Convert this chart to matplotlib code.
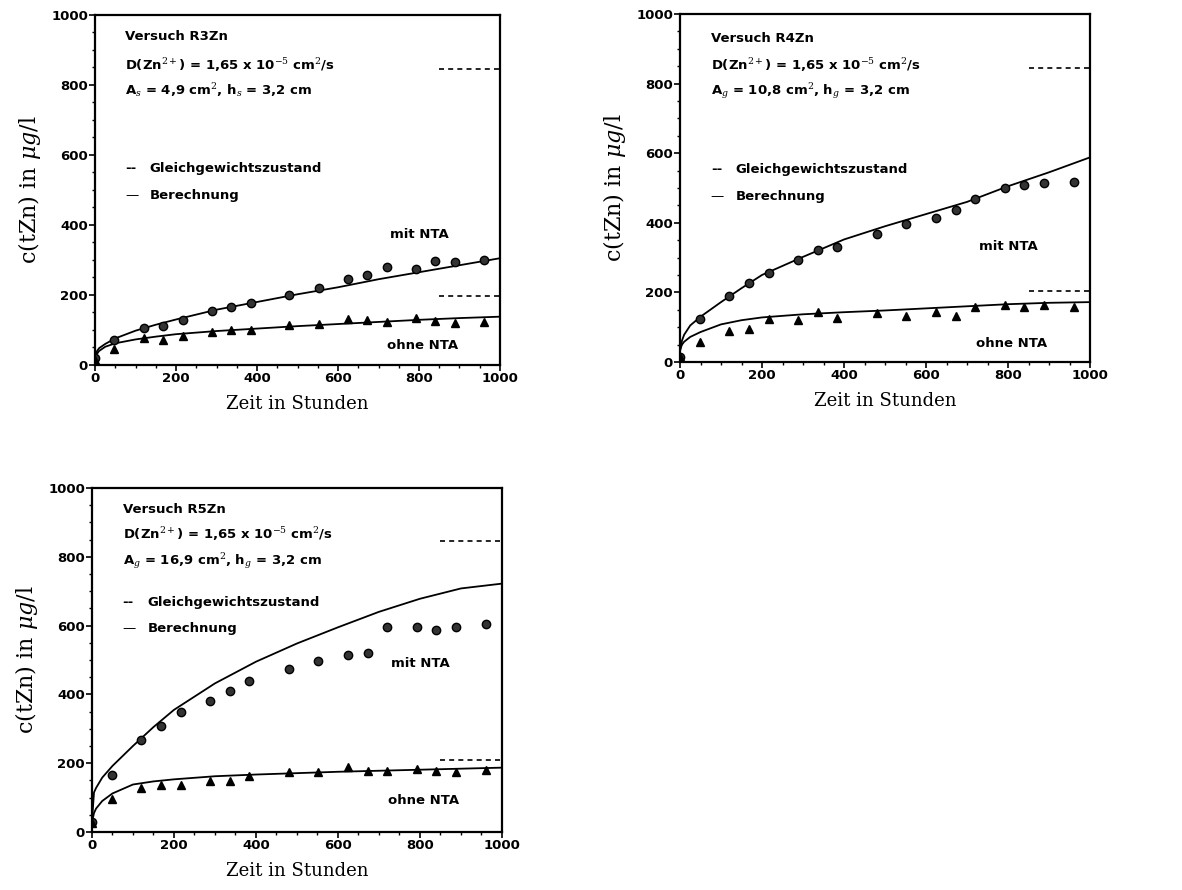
import numpy as np
import matplotlib.pyplot as plt
from matplotlib.ticker import MultipleLocator

plt.rcParams['mathtext.fontset'] = 'dejavuserif'

# sampling times (hours)
t_meas = [0, 48, 120, 168, 216, 288, 336, 384, 480, 552, 624, 672, 720, 792, 840, 888, 960]
t_calc = [0, 5, 10, 25, 50, 100, 150, 200, 300, 400, 500, 600, 700, 800, 900, 1000]

# Versuch R3Zn
r3_mit = [20, 72, 106, 112, 128, 155, 165, 178, 200, 220, 245, 256, 279, 274, 297, 295, 300]
r3_ohne = [15, 45, 78, 70, 83, 95, 100, 100, 115, 116, 131, 129, 122, 133, 127, 120, 123]
r3_mit_calc = [18, 40, 48, 60, 76, 98, 115, 130, 158, 180, 202, 222, 245, 265, 285, 305]
r3_ohne_calc = [15, 32, 40, 52, 62, 73, 81, 88, 97, 104, 111, 117, 123, 129, 134, 138]
r3_eq = [845, 197]

# Versuch R4Zn
r4_mit = [14, 124, 190, 227, 257, 292, 321, 330, 369, 397, 414, 438, 467, 500, 508, 514, 517]
r4_ohne = [14, 57, 90, 95, 124, 121, 143, 127, 140, 133, 143, 133, 159, 164, 159, 163, 159]
r4_mit_calc = [30, 62, 78, 105, 130, 172, 212, 250, 302, 352, 390, 425, 460, 505, 545, 588]
r4_ohne_calc = [35, 50, 58, 72, 86, 108, 120, 128, 137, 143, 148, 154, 160, 166, 170, 172]
r4_eq = [845, 203]

# Versuch R5Zn
r5_mit = [29, 167, 268, 308, 349, 381, 409, 440, 475, 497, 514, 521, 596, 596, 586, 597, 605]
r5_ohne = [25, 97, 129, 137, 137, 148, 148, 163, 175, 175, 188, 177, 177, 184, 177, 175, 181]
r5_mit_calc = [30, 115, 128, 158, 192, 250, 305, 355, 432, 495, 548, 595, 640, 678, 708, 722]
r5_ohne_calc = [28, 55, 68, 90, 112, 138, 147, 153, 162, 167, 171, 175, 178, 181, 184, 187]
r5_eq = [845, 210]

titles = ['Versuch R3Zn', 'Versuch R4Zn', 'Versuch R5Zn']
geom = [r'A$_s$ = 4,9 cm$^2$, h$_s$ = 3,2 cm',
        r'A$_g$ = 10,8 cm$^2$, h$_g$ = 3,2 cm',
        r'A$_g$ = 16,9 cm$^2$, h$_g$ = 3,2 cm']
diff_txt = r'D(Zn$^{2+}$) = 1,65 x 10$^{-5}$ cm$^2$/s'

panels = [
    ([0.0804, 0.5899, 0.3426, 0.3933], r3_mit, r3_ohne, r3_mit_calc, r3_ohne_calc, r3_eq,
     (372, 55)),
    ([0.5753, 0.5933, 0.3469, 0.3910], r4_mit, r4_ohne, r4_mit_calc, r4_ohne_calc, r4_eq,
     (333, 52)),
    ([0.0778, 0.0652, 0.3469, 0.3865], r5_mit, r5_ohne, r5_mit_calc, r5_ohne_calc, r5_eq,
     (490, 91)),
]
# text rows (data y) for each panel: title, D, A/h, legend1, legend2
text_rows = [(939, 857, 785, 560, 484),
             (929, 852, 778, 552, 476),
             (937, 865, 788, 668, 591)]

fig = plt.figure(figsize=(11.82, 8.90), dpi=100)
fs = 9.5
for i, (pos, mit, ohne, mit_c, ohne_c, eq, lab_y) in enumerate(panels):
    ax = fig.add_axes(pos)
    ax.plot(t_calc, mit_c, color='black', lw=1.3)
    ax.plot(t_calc, ohne_c, color='black', lw=1.3)
    ax.plot(t_meas, mit, 'o', color='black', ms=6, mfc='#333333', mec='black')
    ax.plot(t_meas, ohne, '^', color='black', ms=6)
    for v in eq:
        ax.plot([850, 1000], [v, v], color='black', lw=1.2, ls=(0, (3, 2.5)))
    ax.set_xlim(0, 1000)
    ax.set_ylim(0, 1000)
    ax.xaxis.set_major_locator(MultipleLocator(200))
    ax.xaxis.set_minor_locator(MultipleLocator(50))
    ax.yaxis.set_major_locator(MultipleLocator(200))
    ax.yaxis.set_minor_locator(MultipleLocator(50))
    ax.tick_params(which='major', direction='out', length=4, width=1.2, pad=1,
                   labelsize=9.5)
    ax.tick_params(which='minor', direction='out', length=2, width=1)
    for lbl in ax.get_xticklabels() + ax.get_yticklabels():
        lbl.set_fontweight('bold')
    for s in ax.spines.values():
        s.set_linewidth(1.6)

    ty, dy, gy, l1, l2 = text_rows[i]
    ax.text(75, ty, titles[i], fontsize=fs, fontweight='bold', va='center')
    ax.text(75, dy, diff_txt, fontsize=fs, fontweight='bold', va='center')
    ax.text(75, gy, geom[i], fontsize=fs, fontweight='bold', va='center')
    ax.text(75, l1, '--', fontsize=fs, fontweight='bold', va='center')
    ax.text(135, l1, 'Gleichgewichtszustand', fontsize=fs, fontweight='bold', va='center')
    ax.text(75, l2, '\u2014', fontsize=fs, va='center')
    ax.text(135, l2, 'Berechnung', fontsize=fs, fontweight='bold', va='center')
    ax.text(800, lab_y[0], 'mit NTA', fontsize=fs, fontweight='bold', ha='center', va='center')
    ax.text(808, lab_y[1], 'ohne NTA', fontsize=fs, fontweight='bold', ha='center', va='center')

    ax.set_xlabel('Zeit in Stunden', fontsize=13, family='DejaVu Serif', labelpad=7)
    ax.set_ylabel(r'c(tZn) in $\mu g$/l', fontsize=16, family='DejaVu Serif', labelpad=6)

plt.savefig('out.png', dpi=100)
